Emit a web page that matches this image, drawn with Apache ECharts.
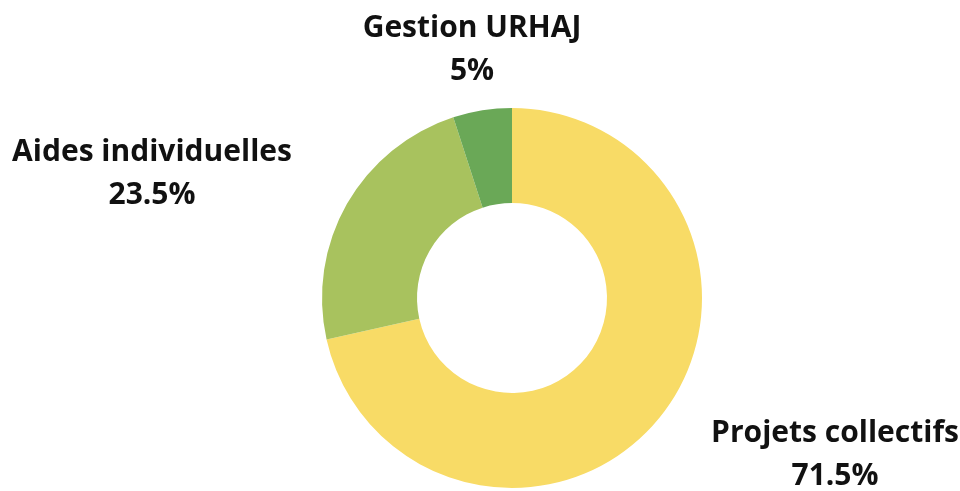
<!DOCTYPE html>
<html>
<head>
<meta charset="utf-8">
<script src="https://cdn.jsdelivr.net/npm/echarts@6/dist/echarts.min.js"></script>
<style>
  html, body { margin: 0; padding: 0; background: #fff; }
  #chart { width: 960px; height: 491px; }
</style>
</head>
<body>
<div id="chart"></div>
<script>
// budget split
var categories = ['Projets collectifs', 'Aides individuelles', 'Gestion URHAJ'];
var shares = [71.5, 23.5, 5];
var colors = ['#f8db66', '#a8c25e', '#6aa857'];
// where each label block sits (centre, px)
var labelSpots = [[835, 455], [152, 174], [472, 50]];

var chart = echarts.init(document.getElementById('chart'));
var option = {
  animation: false,
  series: [
    {
      type: 'pie',
      center: [512, 298],
      radius: [95, 190],
      startAngle: 90,
      clockwise: true,
      data: categories.map(function (name, i) {
        return { name: name, value: shares[i], itemStyle: { color: colors[i] } };
      }),
      label: {
        show: true,
        position: 'outside',
        formatter: '{b}\n{c}%',
        fontFamily: 'Open Sans',
        fontWeight: 'bold',
        fontSize: 30,
        lineHeight: 43,
        color: '#111',
        align: 'center',
        overflow: 'none'
      },
      labelLine: { show: false },
      labelLayout: function (params) {
        var p = labelSpots[params.dataIndex];
        return { x: p[0], y: p[1], align: 'center', verticalAlign: 'middle', width: 400 };
      },
      emphasis: { disabled: true }
    }
  ]
};
chart.setOption(option);
</script>
</body>
</html>
